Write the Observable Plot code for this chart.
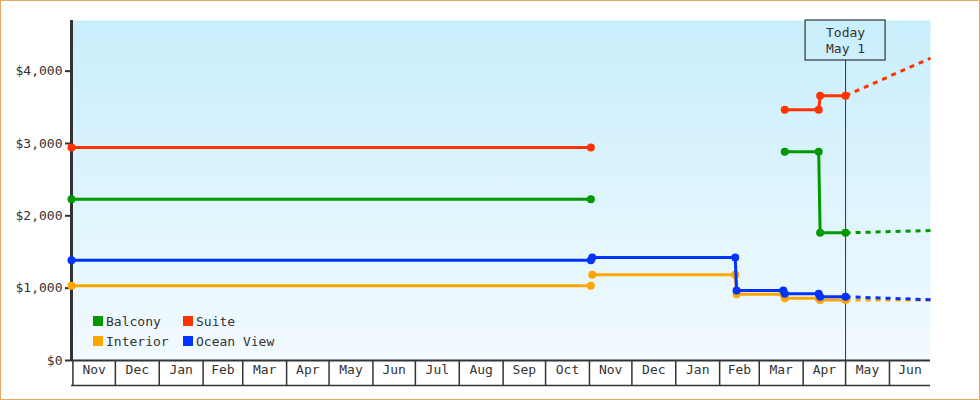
<!DOCTYPE html>
<html>
<head>
<meta charset="utf-8">
<script src="https://cdn.jsdelivr.net/npm/d3@7"></script>
<script src="https://cdn.jsdelivr.net/npm/@observablehq/plot@0.6"></script>
<style>
  html, body { margin: 0; padding: 0; background: #fff; }
  #wrap { position: relative; width: 980px; height: 400px; overflow: hidden; }
  #border { position: absolute; left: 0; top: 0; width: 980px; height: 400px; box-sizing: border-box; border: 1px solid #e9a965; pointer-events: none; }
  #legend { position: absolute; left: 93px; top: 313px; display: grid; grid-auto-flow: column; grid-template-rows: 16px 16px; grid-auto-columns: 90px; row-gap: 4px;
            font-family: "DejaVu Sans Mono", monospace; font-size: 13px; color: #333; }
  #legend .item { display: flex; align-items: center; height: 16px; white-space: nowrap; }
  #legend .sw { width: 10px; height: 10px; margin-right: 3px; flex: none; }
</style>
</head>
<body>
<div id="wrap"></div>
<script>
// ---------- data ----------
const seriesNames  = ["Balcony", "Interior", "Suite", "Ocean View"];
const seriesColors = ["#009900", "#ffa500", "#ff3300", "#0033ff"];

// observed prices: [date, price, segment]
const balconyObs = [
  ["2017-10-31", 2230, 1], ["2018-11-02", 2230, 1],
  ["2019-03-19", 2885, 2], ["2019-04-12", 2885, 2], ["2019-04-13", 1765, 2], ["2019-05-01", 1765, 2]
];
const interiorObs = [
  ["2017-10-31", 1035, 1], ["2018-11-02", 1035, 1],
  ["2018-11-03", 1185, 2], ["2019-02-12", 1185, 2], ["2019-02-13", 915, 2], ["2019-03-18", 915, 2],
  ["2019-03-19", 860, 2], ["2019-04-12", 860, 2], ["2019-04-13", 838, 2], ["2019-05-01", 838, 2]
];
const suiteObs = [
  ["2017-10-31", 2945, 1], ["2018-11-02", 2945, 1],
  ["2019-03-19", 3465, 2], ["2019-04-12", 3465, 2], ["2019-04-13", 3660, 2], ["2019-05-01", 3660, 2]
];
const oceanViewObs = [
  ["2017-10-31", 1385, 1], ["2018-11-02", 1385, 1],
  ["2018-11-03", 1425, 2], ["2019-02-12", 1425, 2], ["2019-02-13", 967, 2], ["2019-03-18", 967, 2],
  ["2019-03-19", 922, 2], ["2019-04-12", 922, 2], ["2019-04-13", 881, 2], ["2019-05-01", 881, 2]
];

// projected prices: [date, price]
const balconyProj   = [["2019-05-01", 1765], ["2019-06-30", 1797]];
const interiorProj  = [["2019-05-01", 838],  ["2019-06-30", 835]];
const suiteProj     = [["2019-05-01", 3660], ["2019-06-30", 4180]];
const oceanViewProj = [["2019-05-01", 881],  ["2019-06-30", 840]];

const xDomain = ["2017-10-31", "2019-06-30"];
const yDomain = [0, 4700];
const yTicks = [0, 1000, 2000, 3000, 4000];
const monthStarts = ["2017-11-01","2017-12-01","2018-01-01","2018-02-01","2018-03-01","2018-04-01","2018-05-01",
  "2018-06-01","2018-07-01","2018-08-01","2018-09-01","2018-10-01","2018-11-01","2018-12-01","2019-01-01",
  "2019-02-01","2019-03-01","2019-04-01","2019-05-01","2019-06-01"];
const monthLabels = ["Nov","Dec","Jan","Feb","Mar","Apr","May","Jun","Jul","Aug","Sep","Oct",
  "Nov","Dec","Jan","Feb","Mar","Apr","May","Jun"];
const todayDate = "2019-05-01";
const todayLabel = ["Today", "May 1"];

// ---------- build ----------
const allObs = [balconyObs, interiorObs, suiteObs, oceanViewObs];
const allProj = [balconyProj, interiorProj, suiteProj, oceanViewProj];
const d0 = new Date(xDomain[0]), d1 = new Date(xDomain[1]);
const today = new Date(todayDate);

const months = monthStarts.map((s, i) => {
  const a = new Date(s);
  const b = d3.utcMonth.offset(a, 1);
  const lo = a < d0 ? d0 : a, hi = b > d1 ? d1 : b;
  return {start: a, mid: new Date((+lo + +hi) / 2), label: monthLabels[i]};
});

const W = 980, H = 400, mT = 20, mB = 40, mL = 71, mR = 50;
const ink = "#333";

const marks = [
  Plot.frame({fill: "url(#bg)", stroke: "none"}),
  Plot.ruleX([today], {x: d => d, stroke: ink, strokeWidth: 1}),
  Plot.rect([today], {x1: d => d, x2: d => d, insetLeft: -40, insetRight: -40, insetBottom: 300, fill: "url(#bg)", stroke: ink, strokeWidth: 1.2}),
  Plot.text([todayLabel.join("\n")], {x: () => today, text: d => d, frameAnchor: "top", lineAnchor: "top", dy: 4, lineHeight: 1.3, fill: ink}),
  // y axis
  Plot.ruleX([d0], {x: d => d, stroke: ink, strokeWidth: 3}),
  Plot.axisY(yTicks, {tickSize: 6, tickPadding: 3, strokeWidth: 2, stroke: ink, fill: ink, label: null,
    tickFormat: d => "$" + d3.format(",")(d)}),
  // x axis boxes
  Plot.ruleY([0], {stroke: ink, strokeWidth: 2}),
  Plot.ruleY([0], {stroke: ink, strokeWidth: 1.5, dy: 25}),
  Plot.axisX(months.map(m => m.start), {tickSize: 25, strokeWidth: 1.5, stroke: ink, tickFormat: () => "", label: null}),
  Plot.text(months, {x: "mid", text: "label", frameAnchor: "bottom", dy: 13, fill: ink})
];

seriesNames.forEach((name, i) => {
  const color = seriesColors[i];
  const obs = allObs[i].map(([d, p, s]) => ({date: new Date(d), price: p, seg: s}));
  const proj = allProj[i].map(([d, p]) => ({date: new Date(d), price: p}));
  marks.push(Plot.line(proj, {x: "date", y: "price", stroke: color, strokeWidth: 3, strokeDasharray: "5,5", strokeLinecap: "butt"}));
  marks.push(Plot.line(obs, {x: "date", y: "price", z: "seg", stroke: color, strokeWidth: 3, strokeLinecap: "butt"}));
  marks.push(Plot.dot(obs, {x: "date", y: "price", r: 4, fill: color, stroke: "none"}));
});

const chart = Plot.plot({
  width: W, height: H,
  marginTop: mT, marginBottom: mB, marginLeft: mL, marginRight: mR,
  x: {type: "utc", domain: [d0, d1]},
  y: {domain: yDomain},
  style: {fontFamily: "DejaVu Sans Mono, monospace", fontSize: "13px", color: ink, background: "transparent"},
  marks
});

const defs = d3.select(chart).insert("defs", ":first-child");
const lg = defs.append("linearGradient").attr("id", "bg").attr("gradientUnits", "userSpaceOnUse")
  .attr("x1", 0).attr("y1", mT).attr("x2", 0).attr("y2", H - mB);
lg.append("stop").attr("offset", "0%").attr("stop-color", "#c9eefc");
lg.append("stop").attr("offset", "100%").attr("stop-color", "#f2faff");

const wrap = document.getElementById("wrap");
wrap.appendChild(chart);

const legend = document.createElement("div");
legend.id = "legend";
[0, 1, 2, 3].forEach(i => {
  const it = document.createElement("div");
  it.className = "item";
  const sw = document.createElement("span");
  sw.className = "sw";
  sw.style.background = seriesColors[i];
  it.appendChild(sw);
  it.appendChild(document.createTextNode(seriesNames[i]));
  legend.appendChild(it);
});
wrap.appendChild(legend);
const border = document.createElement("div");
border.id = "border";
wrap.appendChild(border);
</script>
</body>
</html>
